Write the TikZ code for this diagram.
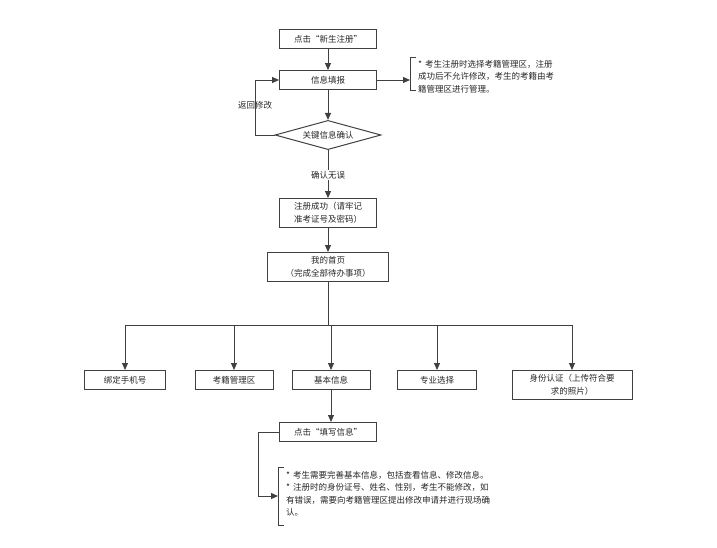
\documentclass[tikz,border=0pt]{standalone}
\usepackage{fontspec}
\setmainfont{Noto Sans CJK SC}
\usetikzlibrary{shapes.geometric,arrows.meta}
\begin{document}
\begin{tikzpicture}[x=1pt,y=-1pt,
  font=\fontsize{8.5}{12.5}\selectfont,
  box/.style={draw=black!75,line width=1pt,minimum height=19pt,align=center,inner sep=2pt,text=black!85},
  ln/.style={draw=black!75,line width=1pt},
  ar/.style={ln,-{Triangle[length=7pt,width=6pt]}},
  txt/.style={text=black!85,align=left,inner sep=0pt}]
\useasboundingbox (0,0) rectangle (717,547);
\node[box,minimum width=97pt] (b1) at (328,39) {点击“新生注册”};
\node[box,minimum width=97pt] (b2) at (328,80) {信息填报};
\node[draw=black!75,line width=1pt,diamond,aspect=2.4,minimum width=106pt,inner sep=0pt,text=black!85] (d) at (328,135) {关键信息确认};
\node[txt] (l1) at (255,105) {返回修改};
\node[txt,fill=white,inner sep=1pt] (l2) at (328,175) {确认无误};
\node[box,minimum width=97pt,minimum height=29pt] (b3) at (328,213) {注册成功（请牢记\\准考证号及密码）};
\node[box,minimum width=121pt,minimum height=29pt] (b4) at (328,267) {我的首页\\（完成全部待办事项）};
\node[box,minimum width=81pt] (c1) at (125,380) {绑定手机号};
\node[box,minimum width=78pt] (c2) at (234,380) {考籍管理区};
\node[box,minimum width=78pt] (c3) at (331,380) {基本信息};
\node[box,minimum width=79pt] (c4) at (437,380) {专业选择};
\node[box,minimum width=120pt,minimum height=29pt] (c5) at (572,385) {身份认证（上传符合要\\求的照片）};
\node[box,minimum width=97pt] (b5) at (328,432) {点击“填写信息”};
% note 1
\coordinate (n1) at (410,80);
\draw[ln] (416,57) -- (410,57) -- (410,90) -- (416,90);
\node[txt,anchor=north west] (t1) at (418,60) {*\,\,考生注册时选择考籍管理区，注册\\成功后不允许修改，考生的考籍由考\\籍管理区进行管理。};
% note 2
\coordinate (n2) at (278,496);
\draw[ln] (284,467) -- (278,467) -- (278,525) -- (284,525);
\node[txt,anchor=north west] (t2) at (286,471) {*\,\,考生需要完善基本信息，包括查看信息、修改信息。\\*\,\,注册时的身份证号、姓名、性别，考生不能修改，如\\有错误，需要向考籍管理区提出修改申请并进行现场确\\认。};
% connectors
\draw[ar] (b1) -- (b2);
\draw[ar] (b2) -- (d);
\draw[ar] (b2.east) -- (n1);
\draw[ar] (d.west) -- (255,135) -- (255,80) -- (b2.west);
\draw[ln] (d.south) -- (l2);
\draw[ar] (l2) -- (b3);
\draw[ar] (b3) -- (b4);
\draw[ln] (b4.south) -- (328,325);
\draw[ln] (125,325) -- (572,325);
\draw[ar] (125,325) -- (c1);
\draw[ar] (234,325) -- (c2);
\draw[ar] (331,325) -- (c3);
\draw[ar] (437,325) -- (c4);
\draw[ar] (572,325) -- (c5);
\draw[ar] (c3.south) -- (c3.south |- b5.north);
\draw[ar] (b5.west) -- (258,432) -- (258,496) -- (n2);
\end{tikzpicture}
\end{document}
